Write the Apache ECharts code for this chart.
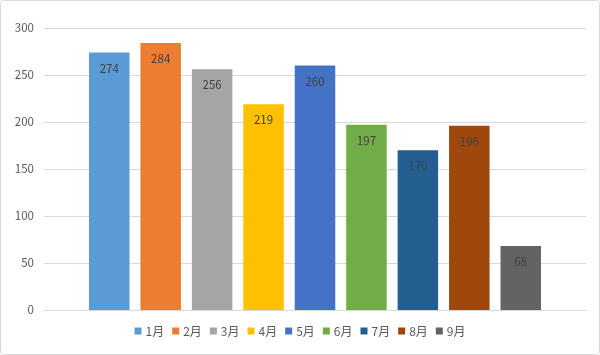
<!DOCTYPE html>
<html>
<head>
<meta charset="utf-8">
<script src="https://cdn.jsdelivr.net/npm/echarts@6/dist/echarts.min.js"></script>
<style>
html,body{margin:0;padding:0;background:#fff;}
#chart{width:600px;height:355px;}
</style>
</head>
<body>
<div id="chart"></div>
<script>
const months = ['1月','2月','3月','4月','5月','6月','7月','8月','9月'];
const values = [274, 284, 256, 219, 260, 197, 170, 196, 68];
const colors = ['#5B9BD5','#ED7D31','#A5A5A5','#FFC000','#4472C4','#70AD47','#255E91','#9E480E','#636363'];
const yTicks = [0, 50, 100, 150, 200, 250, 300];

const FONT = '"Noto Sans CJK SC", "Noto Sans", sans-serif';
const chart = echarts.init(document.getElementById('chart'));
const series = months.map((m, i) => ({
  name: m,
  type: 'bar',
  data: [values[i]],
  barWidth: 40.5,
  barGap: '27%',
  itemStyle: { color: colors[i] },
  label: {
    show: true,
    position: 'insideTop',
    distance: 10,
    color: '#404040',
    fontSize: 11.5,
    fontFamily: FONT
  },
  animation: false
}));

chart.setOption({
  animation: false,
  graphic: [{
    type: 'rect',
    shape: { x: 0.5, y: 0.5, width: 599, height: 354, r: 3 },
    style: { fill: 'none', stroke: '#d9d9d9', lineWidth: 1 },
    silent: true
  }],
  grid: { left: 44, right: 14, top: 28, bottom: 45 },
  legend: {
    data: months,
    bottom: 13,
    left: 'center',
    icon: 'rect',
    itemWidth: 7,
    itemHeight: 7,
    itemGap: 8,
    textStyle: { color: '#595959', fontSize: 12, fontFamily: FONT, padding: [0, 0, 0, -1] }
  },
  xAxis: {
    type: 'category',
    data: [''],
    axisLine: { lineStyle: { color: '#d9d9d9' } },
    axisTick: { show: false },
    axisLabel: { show: false }
  },
  yAxis: {
    type: 'value',
    min: yTicks[0],
    max: yTicks[yTicks.length - 1],
    interval: yTicks[1] - yTicks[0],
    axisLine: { show: false },
    axisTick: { show: false },
    axisLabel: { color: '#595959', fontSize: 11.5, fontFamily: FONT, margin: 10 },
    splitLine: { lineStyle: { color: '#d9d9d9' } }
  },
  series: series
});
</script>
</body>
</html>
